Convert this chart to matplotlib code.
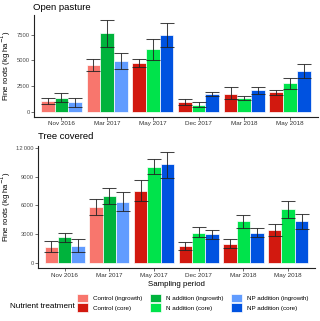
import numpy as np
import matplotlib
matplotlib.use('Agg')
import matplotlib.pyplot as plt
from matplotlib.patches import Patch

plt.rcParams['font.family'] = ['Liberation Sans', 'DejaVu Sans']

# Sampling periods and which method was used at each
periods = ['Nov 2016', 'Mar 2017', 'May 2017', 'Dec 2017', 'Mar 2018', 'May 2018']
method = ['ingrowth', 'ingrowth', 'core', 'core', 'core', 'core']
treatments = ['Control', 'N addition', 'NP addition']

# Open pasture (kg/ha): mean, lower and upper error bar ends
op_control = [1060, 4530, 4790, 940, 1780, 1940]
op_control_lo = [810, 3980, 4400, 710, 1230, 1650]
op_control_hi = [1390, 5180, 5180, 1230, 2390, 2170]
op_n = [1390, 7630, 6080, 680, 1390, 2780]
op_n_lo = [1000, 6340, 5050, 520, 1160, 2260]
op_n_hi = [1880, 8930, 7050, 1000, 1590, 3270]
op_np = [970, 4920, 7500, 1750, 2100, 3980]
op_np_lo = [520, 4140, 6340, 1520, 1780, 3300]
op_np_hi = [1390, 5760, 8670, 1970, 2390, 4660]

# Tree covered (kg/ha)
tc_control = [1670, 5790, 7530, 1700, 1980, 3470]
tc_control_lo = [1080, 4990, 6490, 1320, 1560, 2840]
tc_control_hi = [2250, 6620, 8600, 2150, 2430, 4020]
tc_n = [2670, 6970, 9990, 3120, 4340, 5580]
tc_n_lo = [2190, 6170, 9260, 2640, 3680, 4720]
tc_n_hi = [3160, 7770, 10820, 3750, 4990, 6450]
tc_np = [1730, 6380, 10270, 2980, 3160, 4340]
tc_np_lo = [1080, 5380, 8840, 2500, 2710, 3540]
tc_np_hi = [2500, 7420, 11620, 3470, 3640, 5130]

colors = {
    ('Control', 'ingrowth'): '#F8766D', ('Control', 'core'): '#D2190F',
    ('N addition', 'ingrowth'): '#00B33C', ('N addition', 'core'): '#00E34B',
    ('NP addition', 'ingrowth'): '#619CFF', ('NP addition', 'core'): '#0052E0',
}

fig = plt.figure(figsize=(3.2, 3.21), dpi=100)
W, H = 320, 321


def ax_at(x0, x1, ytop, ybot):
    return fig.add_axes([x0 / W, 1 - ybot / H, (x1 - x0) / W, (ybot - ytop) / H])


def draw_panel(ax, series, ticks, ticklabels):
    x = np.arange(len(periods))
    w = 0.3
    ymax = 0
    for i, (name, vals, lo, hi) in enumerate(series):
        xs = x + (i - 1) * w
        cols = [colors[(name, m)] for m in method]
        ax.bar(xs, vals, width=w, color=cols, edgecolor='white', linewidth=0.5, zorder=2)
        vals = np.array(vals)
        err = [vals - np.array(lo), np.array(hi) - vals]
        ax.errorbar(xs, vals, yerr=err, fmt='none', ecolor='#222222', alpha=0.85,
                    elinewidth=0.75, capsize=4.8, capthick=0.75, zorder=3)
        ymax = max(ymax, max(hi))
    ax.set_xlim(-0.6, len(periods) - 0.4)
    ax.set_ylim(-0.05 * ymax, 1.05 * ymax)
    ax.set_xticks(x)
    ax.set_xticklabels(periods)
    ax.set_yticks(ticks)
    ax.set_yticklabels(ticklabels)
    for s in ['top', 'right']:
        ax.spines[s].set_visible(False)
    for s in ['left', 'bottom']:
        ax.spines[s].set_color('#222222')
        ax.spines[s].set_linewidth(0.8)
    ax.tick_params(axis='y', length=2, width=0.5, color='#333333', labelsize=4.2,
                   labelcolor='#4D4D4D', pad=1)
    ax.tick_params(axis='x', length=2, width=0.5, color='#333333', labelsize=4.5,
                   labelcolor='#333333', pad=1.5)
    ax.set_ylabel('Fine roots (kg ha$^{-1}$)', fontsize=5.6)


ax1 = ax_at(34, 317.5, 15.4, 116.6)
draw_panel(ax1, [('Control', op_control, op_control_lo, op_control_hi),
                 ('N addition', op_n, op_n_lo, op_n_hi),
                 ('NP addition', op_np, op_np_lo, op_np_hi)],
           [0, 2500, 5000, 7500], ['0', '2500', '5000', '7500'])
ax1.yaxis.set_label_coords(-21 / 283.5, 0.5)

ax2 = ax_at(37.8, 315, 146, 268.3)
draw_panel(ax2, [('Control', tc_control, tc_control_lo, tc_control_hi),
                 ('N addition', tc_n, tc_n_lo, tc_n_hi),
                 ('NP addition', tc_np, tc_np_lo, tc_np_hi)],
           [0, 3000, 6000, 9000, 12000], ['0', '3000', '6000', '9000', '12\u2009000'])
ax2.yaxis.set_label_coords(-24.5 / 277.2, 0.5)
ax2.set_xlabel('Sampling period', fontsize=5.7, labelpad=2)

fig.text(33.3 / W, 1 - 7 / H, 'Open pasture', fontsize=6.8, va='center', ha='left')
fig.text(37.7 / W, 1 - 137 / H, 'Tree covered', fontsize=6.8, va='center', ha='left')

# legend
fig.text(10 / W, 1 - 306 / H, 'Nutrient treatment', fontsize=5.9, va='center', ha='left')
fs = 4.5
fpx = fs * 100 / 72
for name, kx in zip(treatments, [77.3, 150, 230.7]):
    handles = [Patch(facecolor=colors[(name, m)], edgecolor='white', linewidth=0.5,
                     label=f'{name} ({m})') for m in ['ingrowth', 'core']]
    fig.legend(handles=handles, loc='upper left', bbox_to_anchor=(kx / W, 1 - 294 / H),
               frameon=False, fontsize=fs, borderpad=0, borderaxespad=0,
               handlelength=11 / fpx, handleheight=10.7 / fpx,
               handletextpad=5 / fpx, labelspacing=0.15)

fig.savefig('out.png', dpi=100)
